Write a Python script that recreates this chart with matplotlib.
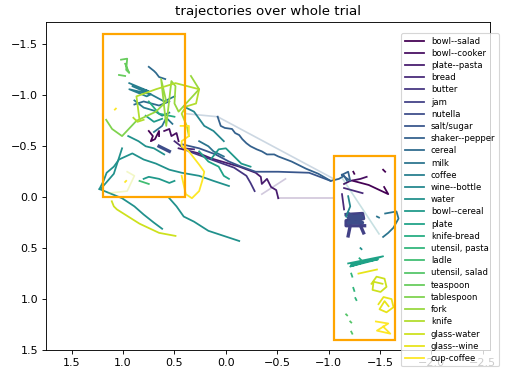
import numpy as np
import matplotlib
matplotlib.use("Agg")
import matplotlib.pyplot as plt
from matplotlib.patches import Rectangle
from matplotlib.lines import Line2D

# object names, in legend order
objects = ["bowl--salad", "bowl--cooker", "plate--pasta", "bread", "butter", "jam",
           "nutella", "salt/sugar", "shaker--pepper", "cereal", "milk", "coffee",
           "wine--bottle", "water", "bowl--cereal", "plate", "knife-bread",
           "utensil, pasta", "ladle", "utensil, salad", "teaspoon", "tablespoon",
           "fork", "knife", "glass-water", "glass--wine", "cup-coffee"]

# trajectories (x, y) per object
bowl_salad = [
    [(-1.24, -0.16), (-1.39, -0.12), (-1.58, -0.03), (-1.54, -0.10)],
    [(-1.24, -0.25), (-1.25, -0.23)],
    [(-1.53, -0.27), (-1.55, -0.25)],
    [(0.75, -0.65), (0.71, -0.60), (0.73, -0.55), (0.69, -0.57), (0.65, -0.65), (0.65, -0.60)],
]
bowl_cooker = [
    [(0.60, -0.65), (0.55, -0.67), (0.53, -0.60), (0.48, -0.63), (0.46, -0.55)],
    [(-1.15, -0.13), (-1.21, -0.16), (-1.31, -0.18), (-1.37, -0.20)],
]
plate_pasta = [
    [(0.46, -0.48), (0.26, -0.43), (0.14, -0.38), (-0.13, -0.30), (-0.29, -0.24), (-0.34, -0.20),
     (-0.35, -0.13), (-0.40, -0.18), (-0.44, -0.10), (-0.49, -0.07), (-0.51, 0.01)],
]
bread = [
    [(-1.13, -0.03), (-1.15, 0.12)],
    [(-1.15, -0.09), (-1.33, -0.04)],
    [(0.50, -0.55), (0.41, -0.48), (0.31, -0.47)],
]
butter = [
    [(0.36, -0.45), (0.17, -0.38), (-0.08, -0.29), (-0.20, -0.21), (-0.24, -0.14), (-0.28, -0.06)],
]
jam = [
    [(-1.17, 0.17), (-1.33, 0.16), (-1.34, 0.21), (-1.17, 0.23), (-1.17, 0.28), (-1.35, 0.28)],
    [(-1.21, 0.28), (-1.19, 0.38)],
    [(-1.31, 0.28), (-1.34, 0.35)],
]
nutella = [
    [(-1.19, 0.16), (-1.33, 0.25), (-1.19, 0.25), (-1.31, 0.18), (-1.19, 0.20), (-1.33, 0.20)],
    [(0.65, -0.50), (0.55, -0.45)],
]
salt_sugar = [
    [(0.43, -0.52), (0.26, -0.48), (0.10, -0.42), (-0.03, -0.35), (-0.15, -0.30), (-0.29, -0.25),
     (-0.51, -0.25), (-0.81, -0.24), (-1.02, -0.16)],
]
shaker_pepper = [
    [(0.08, -0.79), (0.05, -0.70), (0.01, -0.68), (-0.06, -0.67), (-0.09, -0.63), (-0.13, -0.61),
     (-0.16, -0.57), (-0.20, -0.53), (-0.24, -0.50), (-0.30, -0.47), (-0.35, -0.45), (-0.40, -0.42),
     (-0.47, -0.42), (-0.51, -0.40), (-0.64, -0.35), (-0.78, -0.28), (-0.90, -0.23), (-1.02, -0.16),
     (-1.10, -0.18), (-1.15, -0.21), (-1.18, -0.16)],
    [(-1.13, -0.22), (-1.19, -0.25), (-1.21, -0.16), (-1.13, -0.22)],
]
cereal = [
    [(0.75, -1.28), (0.70, -1.24), (0.68, -1.22), (0.65, -1.18), (0.59, -1.16)],
    [(0.89, -0.91), (0.80, -0.94), (0.65, -0.90), (0.55, -0.94)],
]
milk = [
    [(-1.55, 0.16), (-1.66, 0.14), (-1.68, 0.21), (-1.63, 0.30), (-1.58, 0.35), (-1.53, 0.39)],
    [(-1.47, 0.19), (-1.49, 0.20)],
    [(0.26, -0.55), (0.17, -0.50), (0.12, -0.45), (0.02, -0.40)],
    [(0.70, -0.64), (0.62, -0.70), (0.58, -0.78), (0.52, -0.72)],
]
coffee = [
    [(0.94, -1.12), (0.75, -1.04), (0.91, -1.09), (0.73, -1.01), (0.94, -1.06), (0.77, -0.99),
     (0.73, -1.01), (0.60, -0.94), (0.50, -0.99)],
    [(0.89, -0.95), (0.80, -0.88), (0.70, -0.85), (0.62, -0.80), (0.55, -0.83)],
]
wine_bottle = [
    [(-1.19, -0.01), (-1.21, 0.09), (-1.17, 0.19)],
    [(0.41, -0.89), (0.31, -0.84), (0.21, -0.70), (0.12, -0.65), (0.02, -0.55)],
]
water = [
    [(1.23, -0.08), (1.19, -0.16), (1.16, -0.24), (1.09, -0.30), (1.04, -0.37), (0.91, -0.43),
     (0.80, -0.37), (0.68, -0.33), (0.55, -0.27), (0.43, -0.24), (0.26, -0.21), (0.12, -0.16),
     (-0.03, -0.11)],
    [(1.23, -0.08), (1.01, 0.01), (0.89, 0.09), (0.80, 0.17), (0.70, 0.25), (0.62, 0.31)],
    [(0.55, 0.01), (0.48, 0.09), (0.41, 0.19), (0.31, 0.24), (0.17, 0.33), (0.02, 0.38), (-0.13, 0.43)],
    [(1.01, -0.48), (1.09, -0.23), (1.21, -0.09)],
    [(0.95, -0.60), (0.85, -0.55), (0.78, -0.50), (0.70, -0.48), (0.60, -0.42)],
    [(-1.31, 0.50), (-1.32, 0.51)],
]
bowl_cereal = [
    [(0.80, -0.18), (0.75, -0.20), (0.65, -0.18), (0.55, -0.14), (0.50, -0.16)],
    [(0.14, -0.38), (0.07, -0.47), (0.00, -0.48), (-0.06, -0.42), (-0.15, -0.33), (-0.24, -0.30)],
    [(0.78, -0.80), (0.70, -0.74), (0.62, -0.77)],
]
plate = [
    [(-1.19, 0.65), (-1.53, 0.58), (-1.21, 0.68), (-1.48, 0.61), (-1.22, 0.66)],
    [(0.26, -0.45), (0.17, -0.35), (0.07, -0.30), (0.02, -0.21), (-0.03, -0.18)],
]
knife_bread = [
    [(0.75, -0.94), (0.65, -0.82), (0.50, -0.79)],
    [(-1.30, 0.60), (-1.32, 0.62)],
]
utensil_pasta = [
    [(-1.22, 0.75), (-1.23, 0.78)],
    [(-1.24, 0.89), (-1.25, 0.92)],
    [(-1.26, 0.99), (-1.27, 1.01)],
]
ladle = [
    [(0.84, -0.16), (0.75, -0.13)],
]
utensil_salad = [
    [(-1.17, 1.15), (-1.18, 1.16)],
    [(-1.21, 1.22), (-1.22, 1.23)],
    [(-1.22, 1.32), (-1.23, 1.34)],
]
teaspoon = [
    [(1.02, -1.35), (0.96, -1.36), (0.97, -1.25), (0.94, -1.22), (0.98, -1.31)],
    [(1.04, -1.20), (0.98, -1.19)],
]
tablespoon = [
    [(1.165, -0.76), (1.107, -0.67), (1.01, -0.60), (0.87, -0.75)],
]
fork = [
    [(0.87, -0.75), (0.68, -0.84), (0.58, -0.94), (0.63, -1.16), (0.58, -0.70), (0.53, -1.14),
     (0.49, -1.09), (0.50, -0.92), (0.46, -0.84), (0.26, -1.06), (0.34, -1.19)],
]
knife = [
    [(0.84, -0.76), (0.87, -0.99), (0.68, -1.06), (0.49, -1.12), (0.26, -1.06), (0.29, -0.92),
     (0.39, -0.89), (0.43, -0.82), (0.38, -0.70), (0.36, -0.60)],
    [(0.90, -0.78), (0.86, -0.74), (0.80, -0.76)],
]
glass_water = [
    [(1.11, 0.04), (1.09, 0.09), (1.06, 0.12), (0.84, 0.26), (0.65, 0.35), (0.49, 0.38)],
    [(-1.417, 0.85), (-1.466, 0.78), (-1.544, 0.80), (-1.563, 0.88), (-1.505, 0.93), (-1.427, 0.91),
     (-1.437, 0.83), (-1.524, 0.85)],
]
glass_wine = [
    [(-1.485, 1.05), (-1.534, 0.98), (-1.612, 1.00), (-1.631, 1.08), (-1.563, 1.13), (-1.495, 1.10),
     (-1.544, 1.02), (-1.583, 1.07)],
    [(-1.29, 0.75), (-1.47, 0.71)],
]
cup_coffee = [
    [(0.44, -0.70), (0.36, -0.70), (0.36, -0.60), (0.43, -0.55), (0.43, -0.50), (0.36, -0.45),
     (0.26, -0.32), (0.21, -0.25), (0.23, -0.16), (0.26, -0.06), (0.33, 0.01), (0.39, -0.03),
     (0.43, -0.21)],
    [(-1.46, 1.22), (-1.58, 1.24), (-1.47, 1.31), (-1.60, 1.34), (-1.53, 1.27)],
    [(0.97, -0.16), (0.98, -0.15)],
    [(1.07, -0.87), (1.08, -0.86)],
]

tracks = [bowl_salad, bowl_cooker, plate_pasta, bread, butter, jam, nutella, salt_sugar,
          shaker_pepper, cereal, milk, coffee, wine_bottle, water, bowl_cereal, plate,
          knife_bread, utensil_pasta, ladle, utensil_salad, teaspoon, tablespoon, fork,
          knife, glass_water, glass_wine, cup_coffee]

# faint jumps between recorded segments: (object index, segment)
faint = [
    (2, [(-0.51, 0.01), (-1.05, 0.01)]),
    (3, [(-0.35, -0.03), (-0.58, -0.18)]),
    (8, [(0.39, -0.82), (0.08, -0.79)]),
    (8, [(0.08, -0.79), (-1.05, -0.18)]),
    (12, [(-1.13, -0.19), (-1.49, 0.36)]),
    (24, [(0.96, -0.25), (0.89, -0.21), (0.96, -0.06), (1.14, -0.04)]),
]

# regions of interest
boxes = [(0.4, -1.6, 0.8, 1.6), (-1.65, -0.4, 0.6, 1.8)]

colors = plt.cm.viridis(np.linspace(0, 1, len(objects)))

fig = plt.figure(figsize=(511 / 80, 383 / 80), dpi=80)
ax = fig.add_axes([46 / 511, 33 / 383, 444 / 511, 328 / 383])

for i, (name, segs) in enumerate(zip(objects, tracks)):
    lw = 3 if name in ("jam", "nutella") else 1.6
    for seg in segs:
        ax.plot([p[0] for p in seg], [p[1] for p in seg], color=colors[i], lw=lw)

for i, seg in faint:
    ax.plot([p[0] for p in seg], [p[1] for p in seg], color=colors[i], lw=1.5, alpha=0.25)

for x0, y0, w, h in boxes:
    ax.add_patch(Rectangle((x0, y0), w, h, fill=False, edgecolor="orange", lw=2, zorder=5))

ax.set_xlim(1.75, -2.57)
ax.set_ylim(1.5, -1.72)
ax.set_title("trajectories over whole trial")

handles = [Line2D([], [], color=colors[i], lw=1.6) for i in range(len(objects))]
ax.legend(handles, objects, loc="upper left", bbox_to_anchor=(0.80, 0.966), borderaxespad=0,
          fontsize=7.6, labelspacing=0.38, handlelength=2.3)

fig.savefig("out.png", dpi=80)
